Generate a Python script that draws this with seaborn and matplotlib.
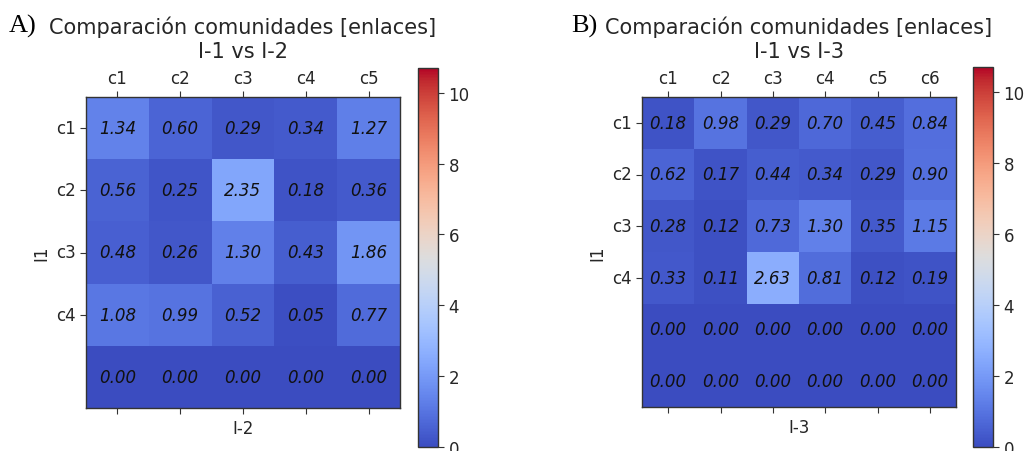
import numpy as np
import pandas as pd
import matplotlib
matplotlib.use("Agg")
import matplotlib.pyplot as plt
import seaborn as sns

# Link-community comparison matrices
rows_a = ["c1", "c2", "c3", "c4", ""]
cols_a = ["c1", "c2", "c3", "c4", "c5"]
vals_a = [
    [1.34, 0.60, 0.29, 0.34, 1.27],
    [0.56, 0.25, 2.35, 0.18, 0.36],
    [0.48, 0.26, 1.30, 0.43, 1.86],
    [1.08, 0.99, 0.52, 0.05, 0.77],
    [0.00, 0.00, 0.00, 0.00, 0.00],
]

rows_b = ["c1", "c2", "c3", "c4", "", ""]
cols_b = ["c1", "c2", "c3", "c4", "c5", "c6"]
vals_b = [
    [0.18, 0.98, 0.29, 0.70, 0.45, 0.84],
    [0.62, 0.17, 0.44, 0.34, 0.29, 0.90],
    [0.28, 0.12, 0.73, 1.30, 0.35, 1.15],
    [0.33, 0.11, 2.63, 0.81, 0.12, 0.19],
    [0.00, 0.00, 0.00, 0.00, 0.00, 0.00],
    [0.00, 0.00, 0.00, 0.00, 0.00, 0.00],
]

labeled_rows = ["c1", "c2", "c3", "c4"]
vmin, vmax = 0, 10.7

plt.rcParams["font.family"] = ["DejaVu Sans"]
plt.rcParams["font.size"] = 12

W, H = 1026, 452
fig = plt.figure(figsize=(W / 100, H / 100), dpi=100)


def px_axes(x0, y0, x1, y1):
    return fig.add_axes([x0 / W, 1 - y1 / H, (x1 - x0) / W, (y1 - y0) / H])


panels = [
    dict(vals=vals_a, rows=rows_a, cols=cols_a, sub="I-1 vs I-2", xlabel="I-2",
         ax=(86, 98, 400, 409), cax=(418, 69, 438, 448), tag="A)", tagx=9),
    dict(vals=vals_b, rows=rows_b, cols=cols_b, sub="I-1 vs I-3", xlabel="I-3",
         ax=(642, 98, 956, 408), cax=(973, 68, 993, 448), tag="B)", tagx=571),
]

for p in panels:
    df = pd.DataFrame(p["vals"], index=p["rows"], columns=p["cols"])
    ax = px_axes(*p["ax"])
    cax = px_axes(*p["cax"])
    sns.heatmap(df, ax=ax, cbar_ax=cax, cmap="coolwarm", vmin=vmin, vmax=vmax,
                annot=True, fmt=".2f",
                annot_kws=dict(color="#111111", style="italic", fontsize=12))
    ax.set_yticks([i + 0.5 for i in range(len(labeled_rows))])
    ax.set_yticklabels(labeled_rows, rotation=0)
    ax.set_xticklabels(p["cols"], rotation=0)
    ax.tick_params(top=True, bottom=True, labeltop=True, labelbottom=False,
                   length=4, color="#333333", labelcolor="#262626")
    for s in ax.spines.values():
        s.set_visible(True)
        s.set_color("#333333")
        s.set_linewidth(1.0)
    ax.set_xlabel(p["xlabel"], color="#262626")
    ax.set_ylabel("I1", color="#262626")
    ax.set_title("Comparación comunidades [enlaces]\n" + p["sub"], color="#262626",
                 fontsize=15, linespacing=1.28, pad=8)
    cb = ax.collections[0].colorbar
    cb.outline.set_visible(True)
    cb.outline.set_linewidth(1.0)
    cb.outline.set_edgecolor("#333333")
    cb.set_ticks([0, 2, 4, 6, 8, 10])
    cb.ax.tick_params(labelsize=12, length=4, color="#333333", labelcolor="#262626")
    fig.text(p["tagx"] / W, 1 - 33 / H, p["tag"], family="Liberation Serif",
             fontsize=19, ha="left", va="baseline", color="black")

fig.savefig("out.png", dpi=100)
